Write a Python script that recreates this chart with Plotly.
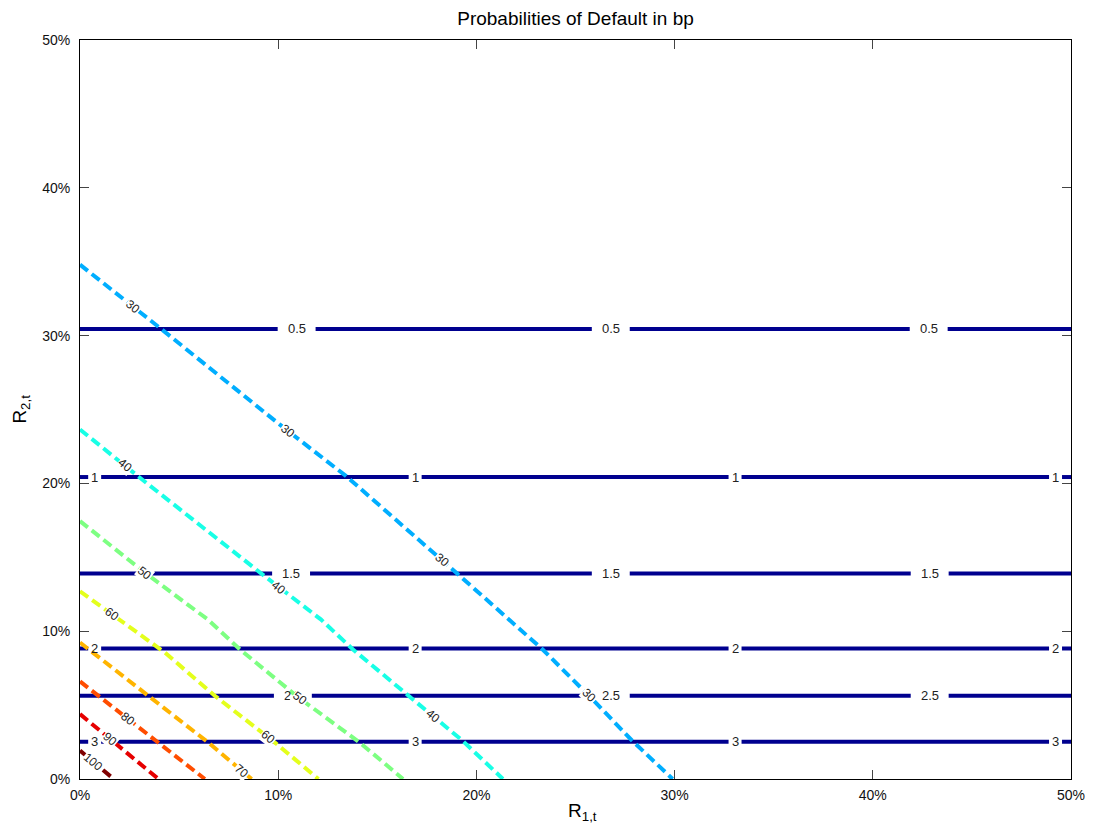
import math
import numpy as np
import plotly.graph_objects as go

# ---------------- data ----------------
# solid (horizontal) contour levels
solid_levels = ["0.5", "1", "1.5", "2", "2.5", "3"]
solid_y = [0.3045, 0.2043, 0.1390, 0.0883, 0.0563, 0.0252]
solid_label_x = [
    [0.1093, 0.2678, 0.4282],
    [0.0074, 0.1691, 0.3305, 0.4922],
    [0.1065, 0.2678, 0.4287],
    [0.0074, 0.1691, 0.3305, 0.4922],
    [0.1074, 0.2678, 0.4287],
    [0.0074, 0.1691, 0.3305, 0.4922],
]

# dashed contour levels (curves)
dashed_levels = ["30", "40", "50", "60", "70", "80", "90", "100"]
c30_x = [0.0, 0.0403, 0.1007, 0.1343, 0.1897, 0.2333, 0.2585, 0.2786, 0.2990]
c30_y = [0.348, 0.3052, 0.2399, 0.2049, 0.1397, 0.0878, 0.054, 0.0259, 0.0]
c40_x = [0.0, 0.0292, 0.0930, 0.1215, 0.1376, 0.1695, 0.1930, 0.2134]
c40_y = [0.2365, 0.2049, 0.1374, 0.1080, 0.0878, 0.0518, 0.0259, 0.0]
c50_x = [0.0, 0.0326, 0.0644, 0.0806, 0.1091, 0.1410, 0.1630]
c50_y = [0.1745, 0.1397, 0.1080, 0.0878, 0.0563, 0.0248, 0.0]
c60_x = [0.0, 0.0428, 0.0680, 0.0982, 0.1203]
c60_y = [0.127, 0.0856, 0.0563, 0.0248, 0.0]
c70_x = [0.0, 0.0344, 0.0646, 0.0866]
c70_y = [0.0923, 0.0563, 0.0248, 0.0]
c80_x = [0.0, 0.0390, 0.0630]
c80_y = [0.066, 0.0252, 0.0]
c90_x = [0.0, 0.0160, 0.0396]
c90_y = [0.0439, 0.0259, 0.0]
c100_x = [0.0, 0.0017, 0.0170]
c100_y = [0.0192, 0.0173, 0.0]
dashed_x = [c30_x, c40_x, c50_x, c60_x, c70_x, c80_x, c90_x, c100_x]
dashed_y = [c30_y, c40_y, c50_y, c60_y, c70_y, c80_y, c90_y, c100_y]
dashed_label_x = [
    [0.0269, 0.1049, 0.1827, 0.2566],
    [0.0225, 0.1006, 0.1780],
    [0.0326, 0.1108],
    [0.0160, 0.0949],
    [0.0815],
    [0.0243],
    [0.0151],
    [0.0067],
]

# ---------------- style ----------------
solid_color = "#00008F"
dashed_colors = ["#00AEFF", "#18FFE6", "#7DFF82", "#E4FF1C",
                 "#FFB400", "#FF4D00", "#E60000", "#800000"]
# page body has an 8px margin; figure size chosen so the plot area
# lands at x 80..1073, y 40..779 of the window
FIG_W, FIG_H = 1089, 826
L, R, T, B = 72, 24, 32, 55
W_PX, H_PX = FIG_W - L - R, FIG_H - T - B
XMAX, YMAX = 0.5, 0.5
FONT = "Liberation Sans, Arial, Helvetica, sans-serif"

fig = go.Figure()

# solid lines with gaps at labels
for lvl, yv, lxs in zip(solid_levels, solid_y, solid_label_x):
    half_px = 19 if len(lvl) > 1 else 6.5
    half = half_px * XMAX / W_PX
    xs, ys = [], []
    start = 0.0
    for lx in lxs:
        xs += [start, lx - half, None]
        ys += [yv, yv, None]
        start = lx + half
    xs += [start, XMAX]
    ys += [yv, yv]
    fig.add_trace(go.Scatter(x=xs, y=ys, mode="lines",
                             line=dict(color=solid_color, width=4),
                             hoverinfo="skip", showlegend=False))
    for lx in lxs:
        fig.add_annotation(x=lx, y=yv, text=lvl, showarrow=False,
                           font=dict(family=FONT, size=13, color="#222"),
                           xanchor="center", yanchor="middle")

# dashed curves
for lvl, xs, ys, col, lxs in zip(dashed_levels, dashed_x, dashed_y,
                                 dashed_colors, dashed_label_x):
    fig.add_trace(go.Scatter(x=xs, y=ys, mode="lines",
                             line=dict(color=col, width=4, dash="10px,5px"),
                             hoverinfo="skip", showlegend=False))
    xa = np.array(xs)
    ya = np.array(ys)
    for lx in lxs:
        ly = float(np.interp(lx, xa, ya))
        i = int(np.clip(np.searchsorted(xa, lx) - 1, 0, len(xa) - 2))
        dx = (xa[i + 1] - xa[i]) * W_PX / XMAX
        dy = (ya[i] - ya[i + 1]) * H_PX / YMAX
        ang = math.degrees(math.atan2(dy, dx))
        fig.add_annotation(x=lx, y=ly, text=lvl, showarrow=False,
                           textangle=ang, bgcolor="white", borderpad=0,
                           font=dict(family=FONT, size=12, color="#222"),
                           xanchor="center", yanchor="middle")

# axis titles
fig.add_annotation(xref="paper", yref="paper", x=0.507, y=-(812 - 779) / H_PX,
                   text="R<sub>1,t</sub>", showarrow=False,
                   font=dict(family=FONT, size=19, color="black"),
                   xanchor="center", yanchor="middle")
fig.add_annotation(xref="paper", yref="paper", x=-(80 - 20) / W_PX, y=0.5,
                   text="R<sub>2,t</sub>", showarrow=False, textangle=-90,
                   font=dict(family=FONT, size=19, color="black"),
                   xanchor="center", yanchor="middle")

axis_common = dict(range=[0, 0.5], dtick=0.1, tick0=0, tickformat=".0%",
                   showgrid=False, zeroline=False, showline=True,
                   linecolor="black", linewidth=1, mirror="ticks",
                   ticks="inside", ticklen=9, tickcolor="#444",
                   tickfont=dict(family=FONT, size=14, color="#111"))

fig.update_layout(
    width=FIG_W, height=FIG_H,
    margin=dict(l=L, r=R, t=T, b=B),
    paper_bgcolor="white", plot_bgcolor="white",
    title=dict(text="Probabilities of Default in bp", x=0.5, xref="paper",
               xanchor="center", y=1 - 10 / FIG_H, yref="container",
               yanchor="middle",
               font=dict(family=FONT, size=19, color="black")),
    xaxis=dict(axis_common, ticklabelstandoff=3),
    yaxis=dict(axis_common, ticklabelstandoff=6),
    showlegend=False,
)

fig.write_html("out.html")
